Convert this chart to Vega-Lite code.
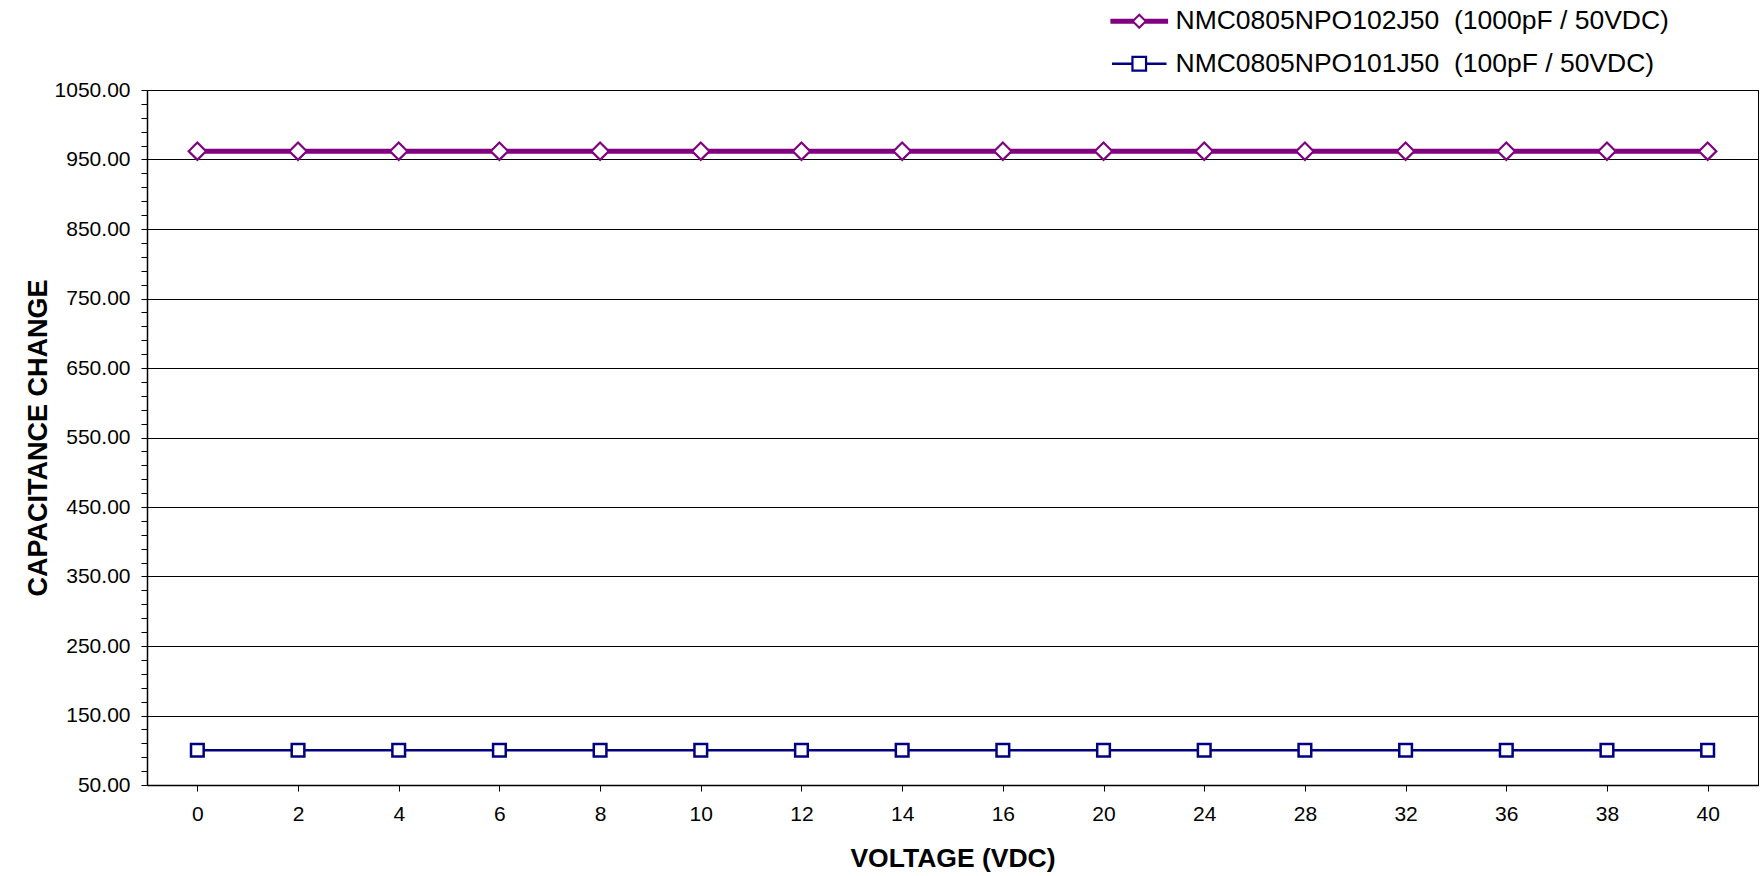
{
  "$schema": "https://vega.github.io/schema/vega-lite/v6.json",
  "autosize": "none",
  "width": 1611,
  "height": 695,
  "padding": {"left": 147, "top": 90, "right": 2, "bottom": 91},
  "background": "white",
  "config": {
    "view": {"stroke": "#000000", "strokeWidth": 1},
    "font": "Liberation Sans"
  },
  "data": {
    "values": [
      {"voltage": 0, "series": "NMC0805NPO102J50\u00a0 (1000pF / 50VDC)", "cap": 962},
      {"voltage": 2, "series": "NMC0805NPO102J50\u00a0 (1000pF / 50VDC)", "cap": 962},
      {"voltage": 4, "series": "NMC0805NPO102J50\u00a0 (1000pF / 50VDC)", "cap": 962},
      {"voltage": 6, "series": "NMC0805NPO102J50\u00a0 (1000pF / 50VDC)", "cap": 962},
      {"voltage": 8, "series": "NMC0805NPO102J50\u00a0 (1000pF / 50VDC)", "cap": 962},
      {"voltage": 10, "series": "NMC0805NPO102J50\u00a0 (1000pF / 50VDC)", "cap": 962},
      {"voltage": 12, "series": "NMC0805NPO102J50\u00a0 (1000pF / 50VDC)", "cap": 962},
      {"voltage": 14, "series": "NMC0805NPO102J50\u00a0 (1000pF / 50VDC)", "cap": 962},
      {"voltage": 16, "series": "NMC0805NPO102J50\u00a0 (1000pF / 50VDC)", "cap": 962},
      {"voltage": 20, "series": "NMC0805NPO102J50\u00a0 (1000pF / 50VDC)", "cap": 962},
      {"voltage": 24, "series": "NMC0805NPO102J50\u00a0 (1000pF / 50VDC)", "cap": 962},
      {"voltage": 28, "series": "NMC0805NPO102J50\u00a0 (1000pF / 50VDC)", "cap": 962},
      {"voltage": 32, "series": "NMC0805NPO102J50\u00a0 (1000pF / 50VDC)", "cap": 962},
      {"voltage": 36, "series": "NMC0805NPO102J50\u00a0 (1000pF / 50VDC)", "cap": 962},
      {"voltage": 38, "series": "NMC0805NPO102J50\u00a0 (1000pF / 50VDC)", "cap": 962},
      {"voltage": 40, "series": "NMC0805NPO102J50\u00a0 (1000pF / 50VDC)", "cap": 962},
      {"voltage": 0, "series": "NMC0805NPO101J50\u00a0 (100pF / 50VDC)", "cap": 100},
      {"voltage": 2, "series": "NMC0805NPO101J50\u00a0 (100pF / 50VDC)", "cap": 100},
      {"voltage": 4, "series": "NMC0805NPO101J50\u00a0 (100pF / 50VDC)", "cap": 100},
      {"voltage": 6, "series": "NMC0805NPO101J50\u00a0 (100pF / 50VDC)", "cap": 100},
      {"voltage": 8, "series": "NMC0805NPO101J50\u00a0 (100pF / 50VDC)", "cap": 100},
      {"voltage": 10, "series": "NMC0805NPO101J50\u00a0 (100pF / 50VDC)", "cap": 100},
      {"voltage": 12, "series": "NMC0805NPO101J50\u00a0 (100pF / 50VDC)", "cap": 100},
      {"voltage": 14, "series": "NMC0805NPO101J50\u00a0 (100pF / 50VDC)", "cap": 100},
      {"voltage": 16, "series": "NMC0805NPO101J50\u00a0 (100pF / 50VDC)", "cap": 100},
      {"voltage": 20, "series": "NMC0805NPO101J50\u00a0 (100pF / 50VDC)", "cap": 100},
      {"voltage": 24, "series": "NMC0805NPO101J50\u00a0 (100pF / 50VDC)", "cap": 100},
      {"voltage": 28, "series": "NMC0805NPO101J50\u00a0 (100pF / 50VDC)", "cap": 100},
      {"voltage": 32, "series": "NMC0805NPO101J50\u00a0 (100pF / 50VDC)", "cap": 100},
      {"voltage": 36, "series": "NMC0805NPO101J50\u00a0 (100pF / 50VDC)", "cap": 100},
      {"voltage": 38, "series": "NMC0805NPO101J50\u00a0 (100pF / 50VDC)", "cap": 100},
      {"voltage": 40, "series": "NMC0805NPO101J50\u00a0 (100pF / 50VDC)", "cap": 100}
    ]
  },
  "encoding": {
    "x": {
      "field": "voltage",
      "type": "ordinal",
      "sort": "ascending",
      "scale": {"type": "point", "padding": 0.5},
      "axis": {
        "title": "VOLTAGE (VDC)",
        "titleFont": "Liberation Sans",
        "titleFontSize": 26.5,
        "titleFontWeight": "bold",
        "titleColor": "#000000",
        "titlePadding": 21,
        "labelFont": "Liberation Sans",
        "labelFontSize": 21,
        "labelColor": "#000000",
        "labelAngle": 0,
        "labelPadding": 12,
        "tickColor": "#000000",
        "tickSize": 6,
        "domainColor": "#000000",
        "domainWidth": 1.5,
        "grid": false
      }
    },
    "y": {
      "field": "cap",
      "type": "quantitative",
      "scale": {"domain": [50, 1050], "nice": false, "zero": false},
      "axis": {
        "title": "CAPACITANCE CHANGE",
        "titleFont": "Liberation Sans",
        "titleFontSize": 27,
        "titleFontWeight": "bold",
        "titleColor": "#000000",
        "titlePadding": 2,
        "values": [50,70,90,110,130,150,170,190,210,230,250,270,290,310,330,350,370,390,410,430,450,470,490,510,530,550,570,590,610,630,650,670,690,710,730,750,770,790,810,830,850,870,890,910,930,950,970,990,1010,1030,1050],
        "labelExpr": "datum.value % 100 == 50 ? format(datum.value, '.2f') : ''",
        "labelFont": "Liberation Sans",
        "labelFontSize": 21,
        "labelColor": "#000000",
        "labelPadding": 11,
        "tickColor": "#000000",
        "tickSize": 6,
        "domainColor": "#000000",
        "domainWidth": 1.5,
        "grid": true,
        "gridColor": "#000000",
        "gridWidth": 1,
        "gridOpacity": {"condition": {"test": "datum.value % 100 == 50", "value": 1}, "value": 0}
      }
    },
    "color": {
      "field": "series",
      "type": "nominal",
      "sort": null,
      "scale": {
        "domain": ["NMC0805NPO102J50\u00a0 (1000pF / 50VDC)", "NMC0805NPO101J50\u00a0 (100pF / 50VDC)"],
        "range": ["#800080", "#000080"]
      },
      "legend": {
        "title": null,
        "orient": "none",
        "legendX": 979,
        "legendY": -82,
        "padding": 0,
        "direction": "vertical",
        "symbolSize": 250,
        "labelFont": "Liberation Sans",
        "labelFontSize": 26.5,
        "labelColor": "#000000",
        "labelLimit": 1000,
        "labelOffset": 23,
        "rowPadding": 15.5,
        "encode": {
          "symbols": {
            "update": {
              "shape": {"signal": "indexof(datum.value, '102J50') >= 0 ? 'M0,-1L1,0L0,1L-1,0Z M0,-0.64L-0.64,0L0,0.64L0.64,0Z M-3.65,-0.32L-0.68,-0.32L-0.68,0.32L-3.65,0.32Z M0.68,-0.32L3.65,-0.32L3.65,0.32L0.68,0.32Z' : 'M-1,-1L1,-1L1,1L-1,1Z M-0.72,-0.72L-0.72,0.72L0.72,0.72L0.72,-0.72Z M-3.45,-0.16L-0.85,-0.16L-0.85,0.16L-3.45,0.16Z M0.85,-0.16L3.45,-0.16L3.45,0.16L0.85,0.16Z'"},
              "fill": {"signal": "indexof(datum.value, '102J50') >= 0 ? '#800080' : '#000080'"},
              "fillOpacity": {"value": 1},
              "opacity": {"value": 1},
              "stroke": {"value": "transparent"},
              "strokeWidth": {"value": 0}
            }
          }
        }
      }
    }
  },
  "layer": [
    {
      "mark": {"type": "line"},
      "encoding": {
        "strokeWidth": {"condition": {"test": "indexof(datum.series, '102J50') >= 0", "value": 5}, "value": 2.5}
      }
    },
    {
      "mark": {"type": "point", "filled": false, "fill": "white", "fillOpacity": 1, "opacity": 1},
      "encoding": {
        "shape": {"condition": {"test": "indexof(datum.series, '102J50') >= 0", "value": "diamond"}, "value": "square"},
        "size": {"condition": {"test": "indexof(datum.series, '102J50') >= 0", "value": 300}, "value": 160},
        "strokeWidth": {"condition": {"test": "indexof(datum.series, '102J50') >= 0", "value": 2.2}, "value": 2.5}
      }
    }
  ]
}
